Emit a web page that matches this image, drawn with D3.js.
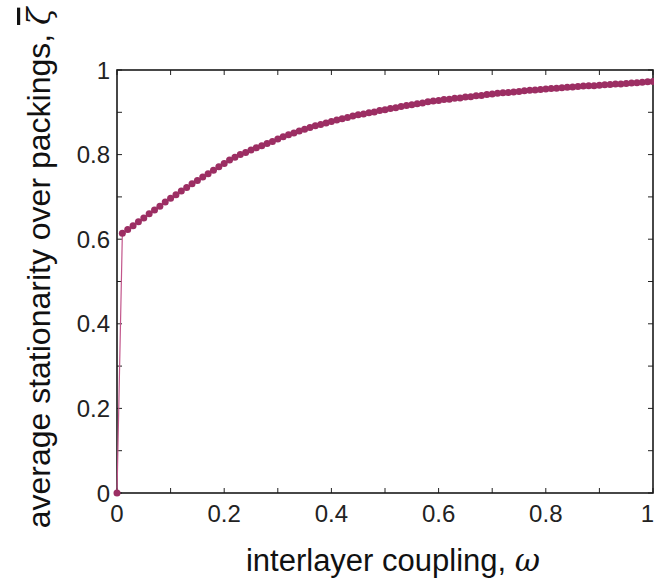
<!DOCTYPE html>
<html>
<head>
<meta charset="utf-8">
<script src="https://cdn.jsdelivr.net/npm/d3@7"></script>
<style>
  body { margin: 0; background: #fff; }
  svg { display: block; }
</style>
</head>
<body>
<div id="wrapper"></div>
<script>
// interlayer coupling values (x)
const omega = [
  0.00, 0.01, 0.02, 0.03, 0.04, 0.05, 0.06, 0.07, 0.08, 0.09,
  0.10, 0.11, 0.12, 0.13, 0.14, 0.15, 0.16, 0.17, 0.18, 0.19,
  0.20, 0.21, 0.22, 0.23, 0.24, 0.25, 0.26, 0.27, 0.28, 0.29,
  0.30, 0.31, 0.32, 0.33, 0.34, 0.35, 0.36, 0.37, 0.38, 0.39,
  0.40, 0.41, 0.42, 0.43, 0.44, 0.45, 0.46, 0.47, 0.48, 0.49,
  0.50, 0.51, 0.52, 0.53, 0.54, 0.55, 0.56, 0.57, 0.58, 0.59,
  0.60, 0.61, 0.62, 0.63, 0.64, 0.65, 0.66, 0.67, 0.68, 0.69,
  0.70, 0.71, 0.72, 0.73, 0.74, 0.75, 0.76, 0.77, 0.78, 0.79,
  0.80, 0.81, 0.82, 0.83, 0.84, 0.85, 0.86, 0.87, 0.88, 0.89,
  0.90, 0.91, 0.92, 0.93, 0.94, 0.95, 0.96, 0.97, 0.98, 0.99,
  1.00
]

// average stationarity over packings (y)
const stationarity = [
  0.000, 0.614, 0.623, 0.632, 0.641, 0.650, 0.660, 0.669, 0.678, 0.688,
  0.697, 0.705, 0.714, 0.722, 0.731, 0.739, 0.747, 0.755, 0.763, 0.771,
  0.779, 0.787, 0.794, 0.800, 0.805, 0.811, 0.816, 0.821, 0.826, 0.831,
  0.837, 0.842, 0.847, 0.851, 0.856, 0.860, 0.864, 0.868, 0.871, 0.875,
  0.878, 0.882, 0.885, 0.888, 0.891, 0.894, 0.896, 0.899, 0.901, 0.904,
  0.906, 0.909, 0.911, 0.914, 0.916, 0.918, 0.920, 0.922, 0.925, 0.927,
  0.928, 0.930, 0.931, 0.933, 0.934, 0.936, 0.937, 0.939, 0.940, 0.942,
  0.943, 0.945, 0.946, 0.947, 0.948, 0.949, 0.951, 0.952, 0.953, 0.954,
  0.955, 0.956, 0.957, 0.958, 0.959, 0.960, 0.961, 0.962, 0.963, 0.963,
  0.964, 0.965, 0.966, 0.967, 0.967, 0.968, 0.969, 0.970, 0.971, 0.972,
  0.973
]

const xTickLabels = [0, 0.2, 0.4, 0.6, 0.8, 1]
const yTickLabels = [0, 0.2, 0.4, 0.6, 0.8, 1]
const minorTicks = [0, 0.1, 0.2, 0.3, 0.4, 0.5, 0.6, 0.7, 0.8, 0.9, 1]

const data = omega.map((w, i) => ({ x: w, y: stationarity[i] }))

let dimensions = {
    width: 654,
    height: 584,
    margin: { top: 70, right: 1, bottom: 91, left: 117 },
}
dimensions.boundedWidth = dimensions.width - dimensions.margin.left - dimensions.margin.right
dimensions.boundedHeight = dimensions.height - dimensions.margin.top - dimensions.margin.bottom

const dotColor = "#9c2e63"
const lineColor = "#c2568b"
const font = "'Liberation Sans', Arial, Helvetica, sans-serif"
const mathFont = "'DejaVu Serif', 'Liberation Serif', serif"

const svg = d3.select("#wrapper")
    .append("svg")
        .attr("width", dimensions.width)
        .attr("height", dimensions.height)

const bounds = svg.append("g")
    .attr("transform", `translate(${dimensions.margin.left},${dimensions.margin.top})`)

const xScale = d3.scaleLinear()
    .domain([0, 1])
    .range([0, dimensions.boundedWidth])

const yScale = d3.scaleLinear()
    .domain([0, 1])
    .range([dimensions.boundedHeight, 0])

// inward ticks on all four sides
const tickLen = 5
const tickG = bounds.append("g")
    .attr("stroke", "#222")
    .attr("stroke-width", 1)

tickG.selectAll(".xb").data(minorTicks).join("line")
    .attr("x1", d => xScale(d)).attr("x2", d => xScale(d))
    .attr("y1", dimensions.boundedHeight).attr("y2", dimensions.boundedHeight - tickLen)
tickG.selectAll(".xt").data(minorTicks).join("line")
    .attr("x1", d => xScale(d)).attr("x2", d => xScale(d))
    .attr("y1", 0).attr("y2", tickLen)
tickG.selectAll(".yl").data(minorTicks).join("line")
    .attr("y1", d => yScale(d)).attr("y2", d => yScale(d))
    .attr("x1", 0).attr("x2", tickLen)
tickG.selectAll(".yr").data(minorTicks).join("line")
    .attr("y1", d => yScale(d)).attr("y2", d => yScale(d))
    .attr("x1", dimensions.boundedWidth).attr("x2", dimensions.boundedWidth - tickLen)

// frame
bounds.append("rect")
    .attr("width", dimensions.boundedWidth)
    .attr("height", dimensions.boundedHeight)
    .attr("fill", "none")
    .attr("stroke", "#1a1a1a")
    .attr("stroke-width", 1.6)

// tick labels (last x label pulled in so it stays on the page)
bounds.selectAll(".xlabel")
    .data(xTickLabels)
    .join("text")
    .attr("x", d => d === 1 ? xScale(d) + 1 : xScale(d))
    .attr("y", dimensions.boundedHeight + 29)
    .attr("text-anchor", d => d === 1 ? "end" : "middle")
    .attr("font-family", font)
    .attr("font-size", 24)
    .attr("fill", "#222")
    .text(d => d3.format("~g")(d))

bounds.selectAll(".ylabel")
    .data(yTickLabels)
    .join("text")
    .attr("x", -7)
    .attr("y", d => yScale(d))
    .attr("dy", "0.36em")
    .attr("text-anchor", "end")
    .attr("font-family", font)
    .attr("font-size", 24)
    .attr("fill", "#222")
    .text(d => d3.format("~g")(d))

// series
const line = d3.line()
    .x(d => xScale(d.x))
    .y(d => yScale(d.y))

bounds.append("path")
    .datum(data)
    .attr("d", line)
    .attr("fill", "none")
    .attr("stroke", lineColor)
    .attr("stroke-width", 1.2)

bounds.selectAll(".dot")
    .data(data)
    .join("circle")
    .attr("cx", d => xScale(d.x))
    .attr("cy", d => yScale(d.y))
    .attr("r", 3.5)
    .attr("fill", dotColor)

// axis titles
const xTitle = svg.append("text")
    .attr("x", 393)
    .attr("y", 571)
    .attr("text-anchor", "middle")
    .attr("font-family", font)
    .attr("font-size", 31)
    .attr("fill", "#111")
xTitle.append("tspan").text("interlayer coupling, ")
xTitle.append("tspan")
    .attr("font-family", mathFont)
    .attr("font-style", "italic")
    .text("ω")

const yTitle = svg.append("text")
    .attr("transform", "translate(50,268) rotate(-90)")
    .attr("text-anchor", "middle")
    .attr("font-family", font)
    .attr("font-size", 32)
    .attr("fill", "#111")
yTitle.append("tspan").text("average stationarity over packings, ")
yTitle.append("tspan")
    .attr("font-family", mathFont)
    .attr("font-style", "italic")
    .style("text-decoration", "overline")
    .text("ζ")
</script>
</body>
</html>
